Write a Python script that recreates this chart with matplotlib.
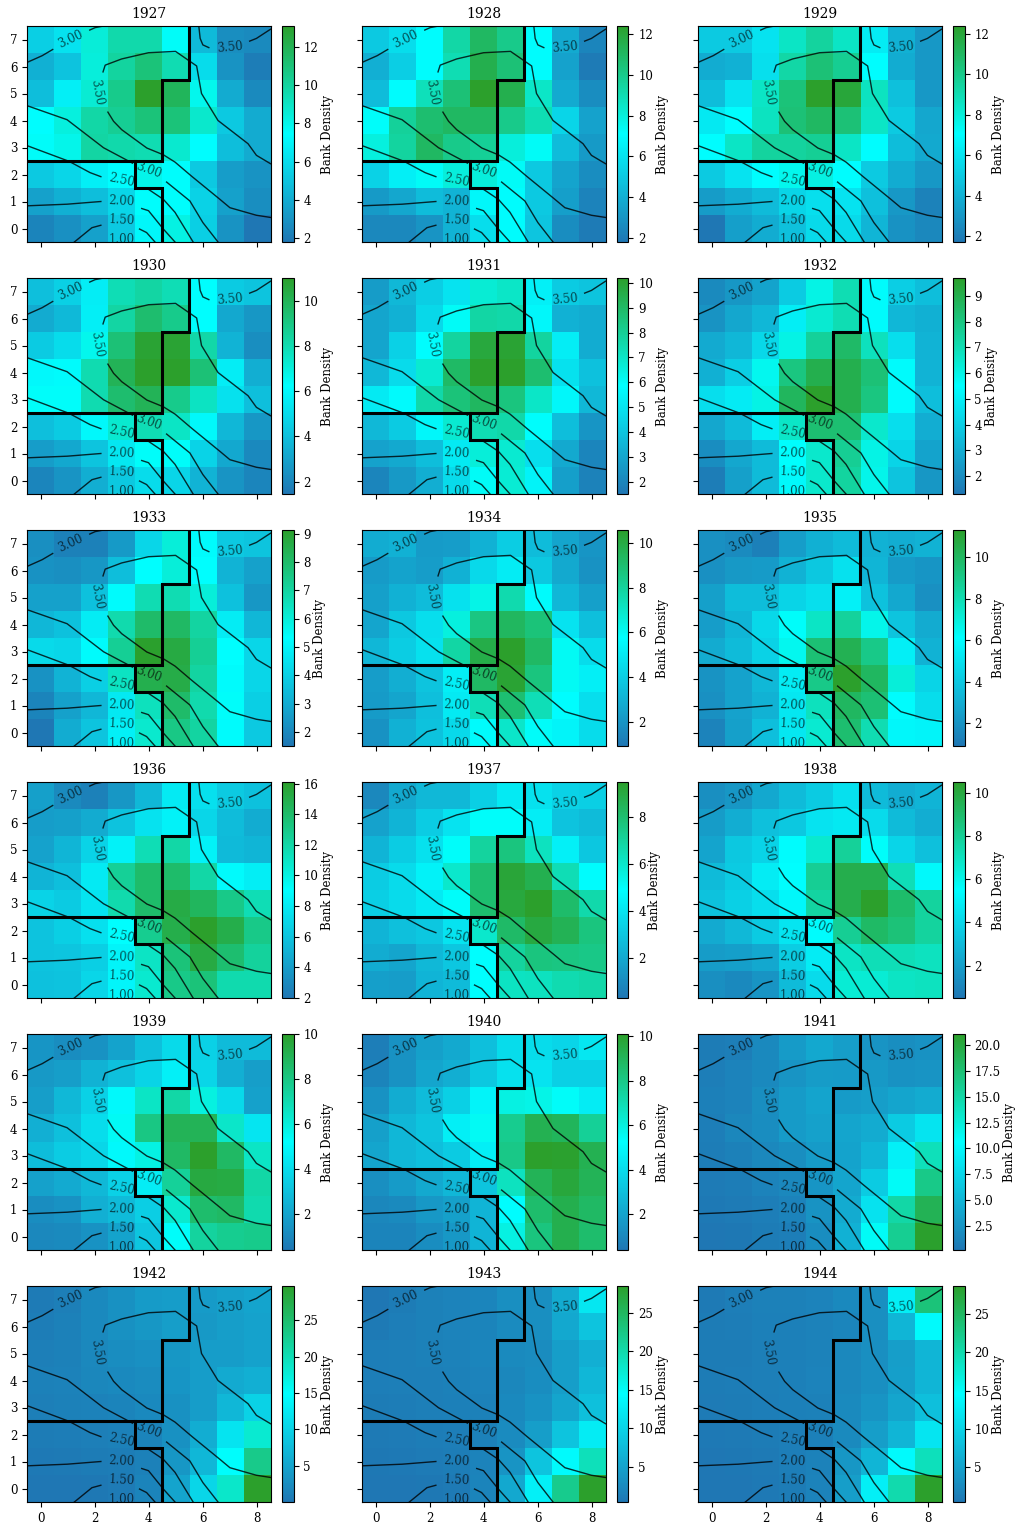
import numpy as np
import matplotlib
matplotlib.use('Agg')
import matplotlib.pyplot as plt
from matplotlib.colors import LinearSegmentedColormap

plt.rcParams['font.family'] = 'DejaVu Serif'

years = list(range(1927, 1945))

# colorbar limits
cb_min = [1.8, 1.8, 1.7, 1.45, 1.5, 1.3, 1.5, 0.9, 0.9, 2.0, 0.3, 0.5, 0.4, 0.4, 0.16, 0.01, 0.4, 0.4]
cb_max = [13.1, 12.4, 12.4, 11.0, 10.2, 9.7, 9.13, 10.6, 11.3, 16.1, 9.5, 10.5, 10.0, 10.1, 21.1, 29.7, 28.5, 28.7]

# cell values, rows listed from y=7 down to y=0
d1927 = [[5.5, 6.3, 8.5, 9.7, 9.7, 7.6, 4.6, 2.8, 2.6],
         [4.2, 5.0, 8.4, 10.0, 11.0, 9.5, 6.0, 3.0, 2.1],
         [4.8, 6.8, 8.6, 10.5, 13.1, 11.8, 7.9, 4.0, 2.6],
         [7.4, 8.3, 9.8, 10.3, 11.0, 11.0, 8.8, 5.2, 4.0],
         [7.6, 8.0, 9.9, 9.7, 9.5, 8.7, 7.4, 4.8, 4.0],
         [5.2, 5.8, 6.8, 7.4, 8.0, 7.5, 5.2, 3.4, 3.0],
         [3.6, 4.2, 4.8, 5.8, 7.5, 7.5, 5.6, 3.6, 2.8],
         [2.4, 2.9, 3.6, 5.2, 7.1, 8.2, 5.5, 3.0, 1.8]]
d1928 = [[5.0, 5.8, 7.0, 9.3, 11.0, 10.0, 7.0, 3.8, 2.4],
         [4.0, 5.2, 7.0, 9.0, 11.5, 10.5, 7.0, 3.5, 2.0],
         [4.5, 7.0, 8.8, 10.5, 12.4, 11.5, 8.5, 3.8, 2.7],
         [7.2, 9.6, 10.7, 11.0, 11.0, 10.0, 9.0, 5.5, 3.5],
         [7.9, 9.5, 11.0, 10.0, 9.7, 8.0, 7.3, 4.5, 3.2],
         [5.4, 6.5, 7.3, 8.0, 8.0, 7.3, 5.0, 3.6, 2.7],
         [3.2, 3.7, 4.5, 4.2, 6.8, 7.0, 5.0, 3.4, 2.3],
         [2.5, 2.5, 3.0, 4.2, 5.8, 7.0, 4.9, 2.7, 2.0]]
d1929 = [[5.0, 5.0, 6.0, 8.5, 9.5, 8.5, 6.3, 4.0, 3.0],
         [3.8, 4.0, 5.8, 9.3, 10.5, 9.8, 7.0, 3.8, 3.0],
         [4.5, 6.0, 8.5, 10.4, 12.4, 12.0, 8.6, 4.6, 3.0],
         [6.2, 7.0, 8.6, 10.5, 11.0, 10.5, 8.5, 5.0, 3.6],
         [7.0, 8.5, 9.5, 9.5, 9.7, 8.5, 7.0, 4.5, 3.7],
         [5.0, 6.0, 7.0, 7.5, 7.8, 7.0, 5.0, 3.8, 3.0],
         [3.2, 3.8, 4.4, 5.4, 5.8, 6.0, 4.6, 3.0, 2.2],
         [1.7, 3.3, 3.8, 4.6, 5.6, 5.6, 4.2, 2.8, 2.4]]
d1930 = [[4.0, 4.6, 5.6, 7.9, 8.3, 7.9, 6.2, 4.4, 4.2],
         [3.3, 3.8, 5.7, 8.3, 9.5, 8.8, 6.2, 3.2, 2.6],
         [4.4, 5.0, 6.6, 9.3, 10.8, 10.8, 8.2, 3.6, 2.3],
         [6.0, 6.1, 8.0, 10.0, 11.0, 11.0, 9.3, 5.6, 3.4],
         [6.3, 6.3, 8.0, 9.5, 10.0, 8.8, 7.6, 5.2, 4.0],
         [4.0, 4.4, 6.0, 7.3, 7.9, 7.5, 6.0, 3.7, 2.6],
         [2.8, 3.2, 4.2, 5.4, 6.3, 6.3, 4.7, 3.2, 2.1],
         [2.0, 2.5, 3.4, 4.3, 5.0, 4.8, 3.6, 2.5, 2.0]]
d1931 = [[2.7, 3.6, 4.3, 5.0, 6.7, 7.0, 5.4, 4.2, 4.0],
         [3.0, 3.4, 4.6, 6.0, 7.7, 7.6, 5.6, 3.4, 3.2],
         [3.0, 4.4, 5.8, 7.8, 9.8, 10.0, 7.8, 5.3, 3.2],
         [3.6, 4.7, 6.8, 9.0, 10.2, 10.2, 8.8, 4.9, 3.9],
         [5.2, 5.7, 7.6, 8.6, 9.1, 8.5, 7.0, 5.6, 3.6],
         [3.6, 4.2, 5.6, 6.8, 7.4, 7.6, 5.9, 3.8, 2.5],
         [2.9, 3.1, 3.8, 5.2, 6.6, 6.8, 4.8, 3.1, 2.0],
         [2.0, 2.6, 3.3, 4.7, 6.0, 6.7, 5.5, 2.8, 1.9]]
d1932 = [[1.9, 2.3, 2.7, 3.9, 6.0, 7.0, 5.4, 4.0, 3.5],
         [2.2, 2.8, 3.3, 5.0, 6.4, 7.0, 5.4, 3.3, 3.1],
         [2.9, 3.3, 4.3, 6.0, 7.5, 8.5, 6.8, 4.5, 3.2],
         [3.1, 4.0, 5.8, 8.0, 9.0, 9.0, 8.2, 5.4, 3.2],
         [4.5, 4.9, 6.0, 8.7, 9.7, 9.0, 8.0, 5.4, 3.5],
         [2.8, 3.4, 5.0, 6.6, 8.3, 8.3, 6.5, 4.5, 3.0],
         [2.0, 2.8, 3.4, 5.5, 6.5, 7.6, 6.0, 4.2, 2.7],
         [1.5, 2.6, 3.4, 5.3, 6.5, 7.4, 5.9, 3.7, 2.3]]
d1933 = [[2.2, 1.8, 1.8, 2.5, 4.2, 6.0, 5.2, 3.8, 3.7],
         [2.3, 2.2, 2.4, 3.5, 5.3, 6.0, 5.3, 3.2, 2.7],
         [2.7, 2.7, 3.6, 5.2, 6.7, 6.7, 6.0, 3.6, 2.4],
         [3.3, 3.6, 4.8, 6.8, 8.0, 8.1, 7.0, 4.8, 3.3],
         [4.3, 4.2, 5.2, 7.2, 9.1, 8.7, 7.2, 5.3, 4.2],
         [2.3, 3.2, 4.0, 6.4, 8.5, 8.6, 7.0, 5.2, 4.2],
         [1.9, 2.7, 3.3, 4.7, 6.5, 8.0, 6.8, 5.4, 4.0],
         [1.5, 3.0, 3.7, 4.9, 6.2, 7.5, 7.0, 5.2, 3.8]]
d1934 = [[2.8, 3.0, 2.2, 2.3, 3.0, 4.0, 3.4, 2.6, 2.0],
         [2.2, 2.5, 2.3, 3.0, 4.4, 5.1, 3.8, 2.7, 1.9],
         [2.4, 3.0, 3.4, 4.7, 6.3, 7.6, 5.6, 3.2, 2.4],
         [2.6, 3.8, 4.6, 6.5, 8.6, 9.4, 8.8, 4.8, 3.5],
         [3.2, 4.0, 4.7, 7.8, 9.9, 10.6, 9.3, 6.0, 4.5],
         [2.3, 2.9, 3.7, 5.2, 9.3, 10.4, 8.7, 6.0, 5.2],
         [2.2, 2.6, 3.5, 5.0, 7.4, 9.0, 7.4, 5.7, 4.6],
         [1.9, 3.0, 3.6, 4.4, 5.6, 7.0, 5.9, 5.4, 4.5]]
d1935 = [[1.9, 1.7, 1.3, 2.4, 3.1, 3.5, 3.2, 3.0, 3.2],
         [1.9, 2.2, 2.3, 3.2, 4.0, 5.0, 3.3, 2.3, 2.1],
         [2.5, 3.6, 3.6, 4.5, 4.9, 5.6, 3.8, 2.8, 1.9],
         [2.4, 3.3, 4.6, 6.2, 7.5, 8.5, 6.6, 3.9, 2.9],
         [2.9, 3.5, 4.4, 6.5, 9.5, 10.3, 9.0, 5.5, 3.2],
         [2.0, 2.6, 3.4, 5.4, 9.0, 11.3, 10.0, 7.0, 4.5],
         [1.9, 2.6, 3.2, 5.2, 7.7, 10.0, 9.5, 6.0, 4.8],
         [1.4, 2.5, 3.7, 5.2, 7.2, 9.6, 8.0, 5.8, 5.7]]
d1936 = [[4.2, 3.0, 2.6, 3.7, 5.4, 8.0, 7.5, 6.3, 5.9],
         [4.0, 4.2, 4.7, 6.0, 7.6, 8.4, 7.0, 5.6, 4.8],
         [4.3, 5.3, 6.8, 8.4, 11.5, 12.0, 8.4, 5.5, 5.3],
         [5.2, 5.8, 8.0, 12.5, 14.0, 14.0, 12.0, 8.8, 8.2],
         [6.8, 6.4, 7.7, 11.8, 14.0, 15.2, 14.4, 13.0, 11.5],
         [6.0, 6.6, 7.5, 9.0, 12.7, 15.0, 16.1, 15.0, 13.0],
         [6.0, 6.1, 6.6, 8.5, 11.0, 13.5, 15.3, 13.8, 12.3],
         [5.9, 6.0, 7.0, 8.6, 10.6, 13.0, 13.5, 11.7, 11.7]]
d1937 = [[0.9, 2.0, 2.5, 2.5, 3.3, 4.2, 3.9, 3.4, 3.3],
         [1.8, 2.4, 3.2, 4.0, 5.0, 5.0, 4.3, 2.9, 2.6],
         [2.4, 3.2, 3.9, 5.0, 7.0, 7.7, 6.3, 4.4, 3.0],
         [3.2, 3.7, 4.5, 6.0, 8.0, 9.2, 8.7, 6.5, 4.8],
         [3.3, 3.7, 4.2, 5.0, 8.0, 9.1, 9.5, 8.1, 6.7],
         [2.4, 2.8, 3.0, 4.0, 6.0, 8.2, 9.0, 8.6, 7.7],
         [2.1, 1.9, 2.5, 3.0, 4.9, 7.0, 7.7, 7.6, 7.5],
         [1.7, 1.6, 2.4, 2.6, 4.9, 6.2, 6.3, 6.6, 6.8]]
d1938 = [[1.4, 1.7, 2.3, 3.0, 3.6, 4.4, 3.0, 2.5, 2.8],
         [1.9, 2.5, 3.2, 3.5, 4.5, 4.7, 4.2, 3.0, 2.5],
         [2.2, 3.5, 3.9, 5.4, 6.6, 7.9, 5.6, 4.0, 3.2],
         [3.0, 3.6, 4.8, 5.5, 8.0, 9.7, 9.7, 7.2, 5.3],
         [3.3, 3.8, 4.3, 5.2, 7.7, 9.7, 10.5, 9.0, 7.8],
         [2.4, 2.9, 3.6, 4.6, 5.4, 8.0, 9.1, 8.7, 7.8],
         [1.9, 2.0, 2.3, 3.7, 4.8, 6.9, 7.2, 7.2, 7.0],
         [1.4, 1.2, 1.6, 3.0, 4.2, 6.5, 6.5, 6.9, 7.0]]
d1939 = [[1.5, 1.2, 1.4, 2.0, 3.0, 3.9, 3.6, 2.8, 2.8],
         [1.6, 1.8, 2.5, 3.0, 3.7, 4.7, 3.8, 2.4, 1.8],
         [1.8, 2.7, 3.6, 5.0, 6.5, 7.2, 5.9, 3.9, 1.9],
         [2.4, 3.0, 4.0, 5.4, 8.0, 9.0, 9.0, 6.4, 4.3],
         [2.9, 3.4, 3.8, 5.0, 5.8, 8.7, 10.0, 8.7, 6.5],
         [1.9, 2.2, 2.7, 3.6, 4.6, 7.5, 9.5, 9.4, 7.2],
         [1.2, 1.4, 2.4, 2.8, 3.5, 6.3, 8.5, 8.7, 7.0],
         [1.0, 1.1, 1.4, 2.0, 3.2, 5.3, 7.4, 7.7, 7.8]]
d1940 = [[0.7, 1.4, 1.9, 2.2, 3.0, 4.0, 4.0, 3.8, 4.4],
         [0.9, 1.4, 2.1, 2.4, 3.3, 4.2, 4.3, 3.6, 3.6],
         [1.4, 2.3, 2.9, 3.6, 4.9, 5.9, 5.8, 5.4, 4.6],
         [1.9, 2.7, 3.2, 4.7, 5.5, 7.8, 9.2, 9.0, 7.6],
         [2.1, 2.7, 3.0, 3.4, 4.7, 8.0, 10.1, 10.0, 9.2],
         [1.3, 1.7, 2.2, 2.7, 3.2, 6.7, 9.1, 9.7, 9.1],
         [1.0, 1.1, 1.6, 1.9, 2.6, 5.2, 8.6, 9.3, 8.8],
         [0.9, 0.9, 1.2, 1.6, 2.6, 5.9, 8.2, 9.3, 8.6]]
d1941 = [[0.6, 0.8, 1.6, 3.0, 4.0, 3.2, 2.5, 2.0, 2.3],
         [0.8, 1.2, 1.6, 2.5, 3.1, 3.0, 2.8, 2.3, 2.5],
         [0.9, 1.2, 2.0, 3.0, 3.7, 3.0, 3.2, 3.8, 4.2],
         [0.8, 1.4, 1.9, 3.0, 3.5, 3.8, 4.2, 6.7, 8.6],
         [0.7, 1.0, 1.5, 2.0, 3.0, 3.6, 5.0, 9.5, 14.0],
         [0.5, 0.7, 1.2, 1.5, 2.6, 3.8, 6.7, 11.0, 16.5],
         [0.4, 0.5, 0.8, 1.2, 2.4, 4.2, 8.5, 15.0, 19.0],
         [0.2, 0.3, 0.6, 0.8, 1.9, 4.7, 11.0, 16.0, 21.0]]
d1942 = [[0.5, 1.0, 2.0, 3.0, 4.0, 4.3, 4.0, 4.6, 5.0],
         [0.8, 1.2, 2.0, 3.0, 3.6, 4.4, 3.8, 4.4, 4.8],
         [1.0, 1.2, 1.9, 2.5, 2.8, 3.6, 4.2, 4.2, 4.8],
         [1.2, 1.4, 1.8, 2.0, 2.4, 3.4, 4.2, 5.6, 6.2],
         [1.0, 1.2, 1.4, 1.6, 2.0, 3.0, 4.2, 7.0, 10.0],
         [0.6, 0.8, 1.0, 1.2, 1.6, 3.0, 6.0, 12.0, 18.0],
         [0.3, 0.4, 0.6, 0.8, 1.2, 3.5, 7.0, 15.0, 23.0],
         [0.01, 0.1, 0.2, 0.5, 1.6, 5.0, 10.5, 18.5, 29.7]]
d1943 = [[0.4, 1.0, 1.5, 1.8, 2.0, 3.0, 3.0, 5.8, 12.0],
         [0.8, 1.2, 1.5, 1.8, 1.9, 2.5, 3.0, 5.5, 8.5],
         [1.2, 1.3, 1.5, 1.7, 2.0, 2.4, 2.6, 4.5, 6.3],
         [1.2, 1.3, 1.3, 1.5, 1.8, 2.1, 2.8, 4.5, 7.0],
         [1.0, 1.1, 1.3, 1.4, 1.6, 2.3, 3.3, 5.3, 8.0],
         [0.8, 0.9, 1.1, 1.2, 1.5, 2.5, 4.5, 8.5, 12.5],
         [0.6, 0.7, 0.9, 1.1, 1.8, 3.5, 8.5, 14.0, 19.0],
         [0.4, 0.5, 0.6, 0.8, 1.9, 5.5, 13.0, 22.0, 28.5]]
d1944 = [[0.8, 1.2, 1.6, 1.6, 1.8, 2.3, 3.0, 13.0, 23.5],
         [1.0, 1.1, 1.4, 1.5, 1.7, 2.0, 3.0, 7.0, 14.0],
         [1.0, 1.0, 1.3, 1.5, 1.7, 2.2, 3.0, 4.6, 7.0],
         [1.0, 1.1, 1.3, 1.5, 1.8, 2.2, 3.0, 4.7, 7.0],
         [0.9, 1.0, 1.2, 1.4, 1.6, 2.4, 3.5, 5.3, 8.0],
         [0.7, 0.8, 1.0, 1.2, 1.5, 2.5, 4.5, 7.0, 12.0],
         [0.5, 0.6, 0.8, 1.2, 1.7, 3.8, 7.0, 14.0, 19.0],
         [0.4, 0.5, 0.7, 1.0, 1.8, 4.5, 13.0, 20.0, 28.7]]

all_years = [d1927, d1928, d1929, d1930, d1931, d1932, d1933, d1934, d1935,
             d1936, d1937, d1938, d1939, d1940, d1941, d1942, d1943, d1944]

# contour pieces (x, y), broken where the inline labels sit
cont_x = [[-0.5, 0.06, 0.45], [1.82, 2.02, 2.33],
          [5.85, 5.9, 6.0, 6.22], [7.73, 7.98, 8.5],
          [2.31, 2.39, 3.0, 3.99, 4.99, 5.77, 5.95, 6.56, 7.67, 7.98, 8.5],
          [2.49, 2.7, 3.0, 3.93, 4.54, 4.97, 5.58, 6.63, 7.0, 7.98, 8.5],
          [-0.5, 0.98, 2.33, 3.4], [4.66, 5.52, 6.0, 6.56],
          [-0.5, 1.05, 1.83, 2.23], [3.8, 3.99, 4.54, 4.97, 5.64],
          [-0.5, 0.98, 2.23], [3.74, 3.99, 4.54, 4.97],
          [1.25, 1.9, 2.23], [3.66, 3.92, 4.23]]
cont_y = [[6.15, 6.4, 6.63], [7.35, 7.44, 7.5],
          [7.5, 7.04, 6.8, 6.7], [6.94, 7.04, 7.38],
          [5.8, 6.05, 6.28, 6.51, 6.56, 6.02, 5.0, 4.0, 3.14, 2.71, 2.4],
          [4.31, 3.97, 3.66, 2.98, 2.73, 2.46, 1.94, 1.08, 0.77, 0.49, 0.41],
          [4.55, 4.03, 2.99, 2.42], [1.72, 1.02, 0.22, -0.5],
          [3.07, 2.49, 2.07, 1.92], [1.5, 1.45, 1.08, 0.6, -0.5],
          [0.84, 0.9, 1.0], [0.74, 0.66, -0.02, -0.5],
          [-0.5, 0.03, 0.12], [-0.02, -0.15, -0.5]]

lab_text = ['3.00', '3.50', '3.50', '3.00', '2.50', '2.00', '1.50', '1.00']
lab_x = [1.1, 6.99, 2.1, 4.01, 3.0, 3.0, 3.0, 3.0]
lab_y = [7.01, 6.71, 5.04, 2.15, 1.78, 1.03, 0.29, -0.42]
lab_rot = [25, 5, -80, -20, -12, -3, -3, 0]

# thick boundaries
bound_x = [[-0.5, 4.5, 4.5, 5.5, 5.5], [3.5, 3.5, 4.5, 4.5]]
bound_y = [[2.5, 2.5, 5.5, 5.5, 7.5], [2.5, 1.5, 1.5, -0.5]]

cmap = LinearSegmentedColormap.from_list('bcg', ['tab:blue', 'cyan', 'tab:green'])

W, H = 1015, 1526
fig = plt.figure(figsize=(W/100, H/100), dpi=100)
lefts = [27, 362, 698]
tops = [26, 278, 530, 782, 1034, 1286]
aw, ah = 243.5, 216

for i, (yr, d) in enumerate(zip(years, all_years)):
    r, c = i // 3, i % 3
    ax = fig.add_axes([lefts[c]/W, 1-(tops[r]+ah)/H, aw/W, ah/H])
    im = ax.imshow(np.array(d)[::-1], origin='lower', cmap=cmap, aspect='auto',
                   vmin=cb_min[i], vmax=cb_max[i])
    for xs, ys in zip(cont_x, cont_y):
        ax.plot(xs, ys, color='k', lw=1, alpha=0.8)
    for t, x, y, rot in zip(lab_text, lab_x, lab_y, lab_rot):
        ax.text(x, y, t, fontsize=8.5, rotation=rot, ha='center', va='center',
                alpha=0.65, clip_on=True, rotation_mode='anchor')
    for xs, ys in zip(bound_x, bound_y):
        ax.plot(xs, ys, color='k', lw=2.2, solid_joinstyle='miter')
    ax.set_xlim(-0.5, 8.5)
    ax.set_ylim(-0.5, 7.5)
    ax.set_xticks([0, 2, 4, 6, 8])
    ax.set_yticks(range(8))
    ax.tick_params(labelsize=8.5, labelbottom=r == 5, labelleft=c == 0)
    ax.set_title(str(yr), fontsize=10, pad=6)

    cax = fig.add_axes([(lefts[c]+255)/W, 1-(tops[r]+ah)/H, 11.5/W, ah/H])
    cb = fig.colorbar(im, cax=cax)
    cb.ax.tick_params(labelsize=8.5)
    cb.set_label('Bank Density', fontsize=8.5, labelpad=2)

fig.savefig('out.png', dpi=100)
